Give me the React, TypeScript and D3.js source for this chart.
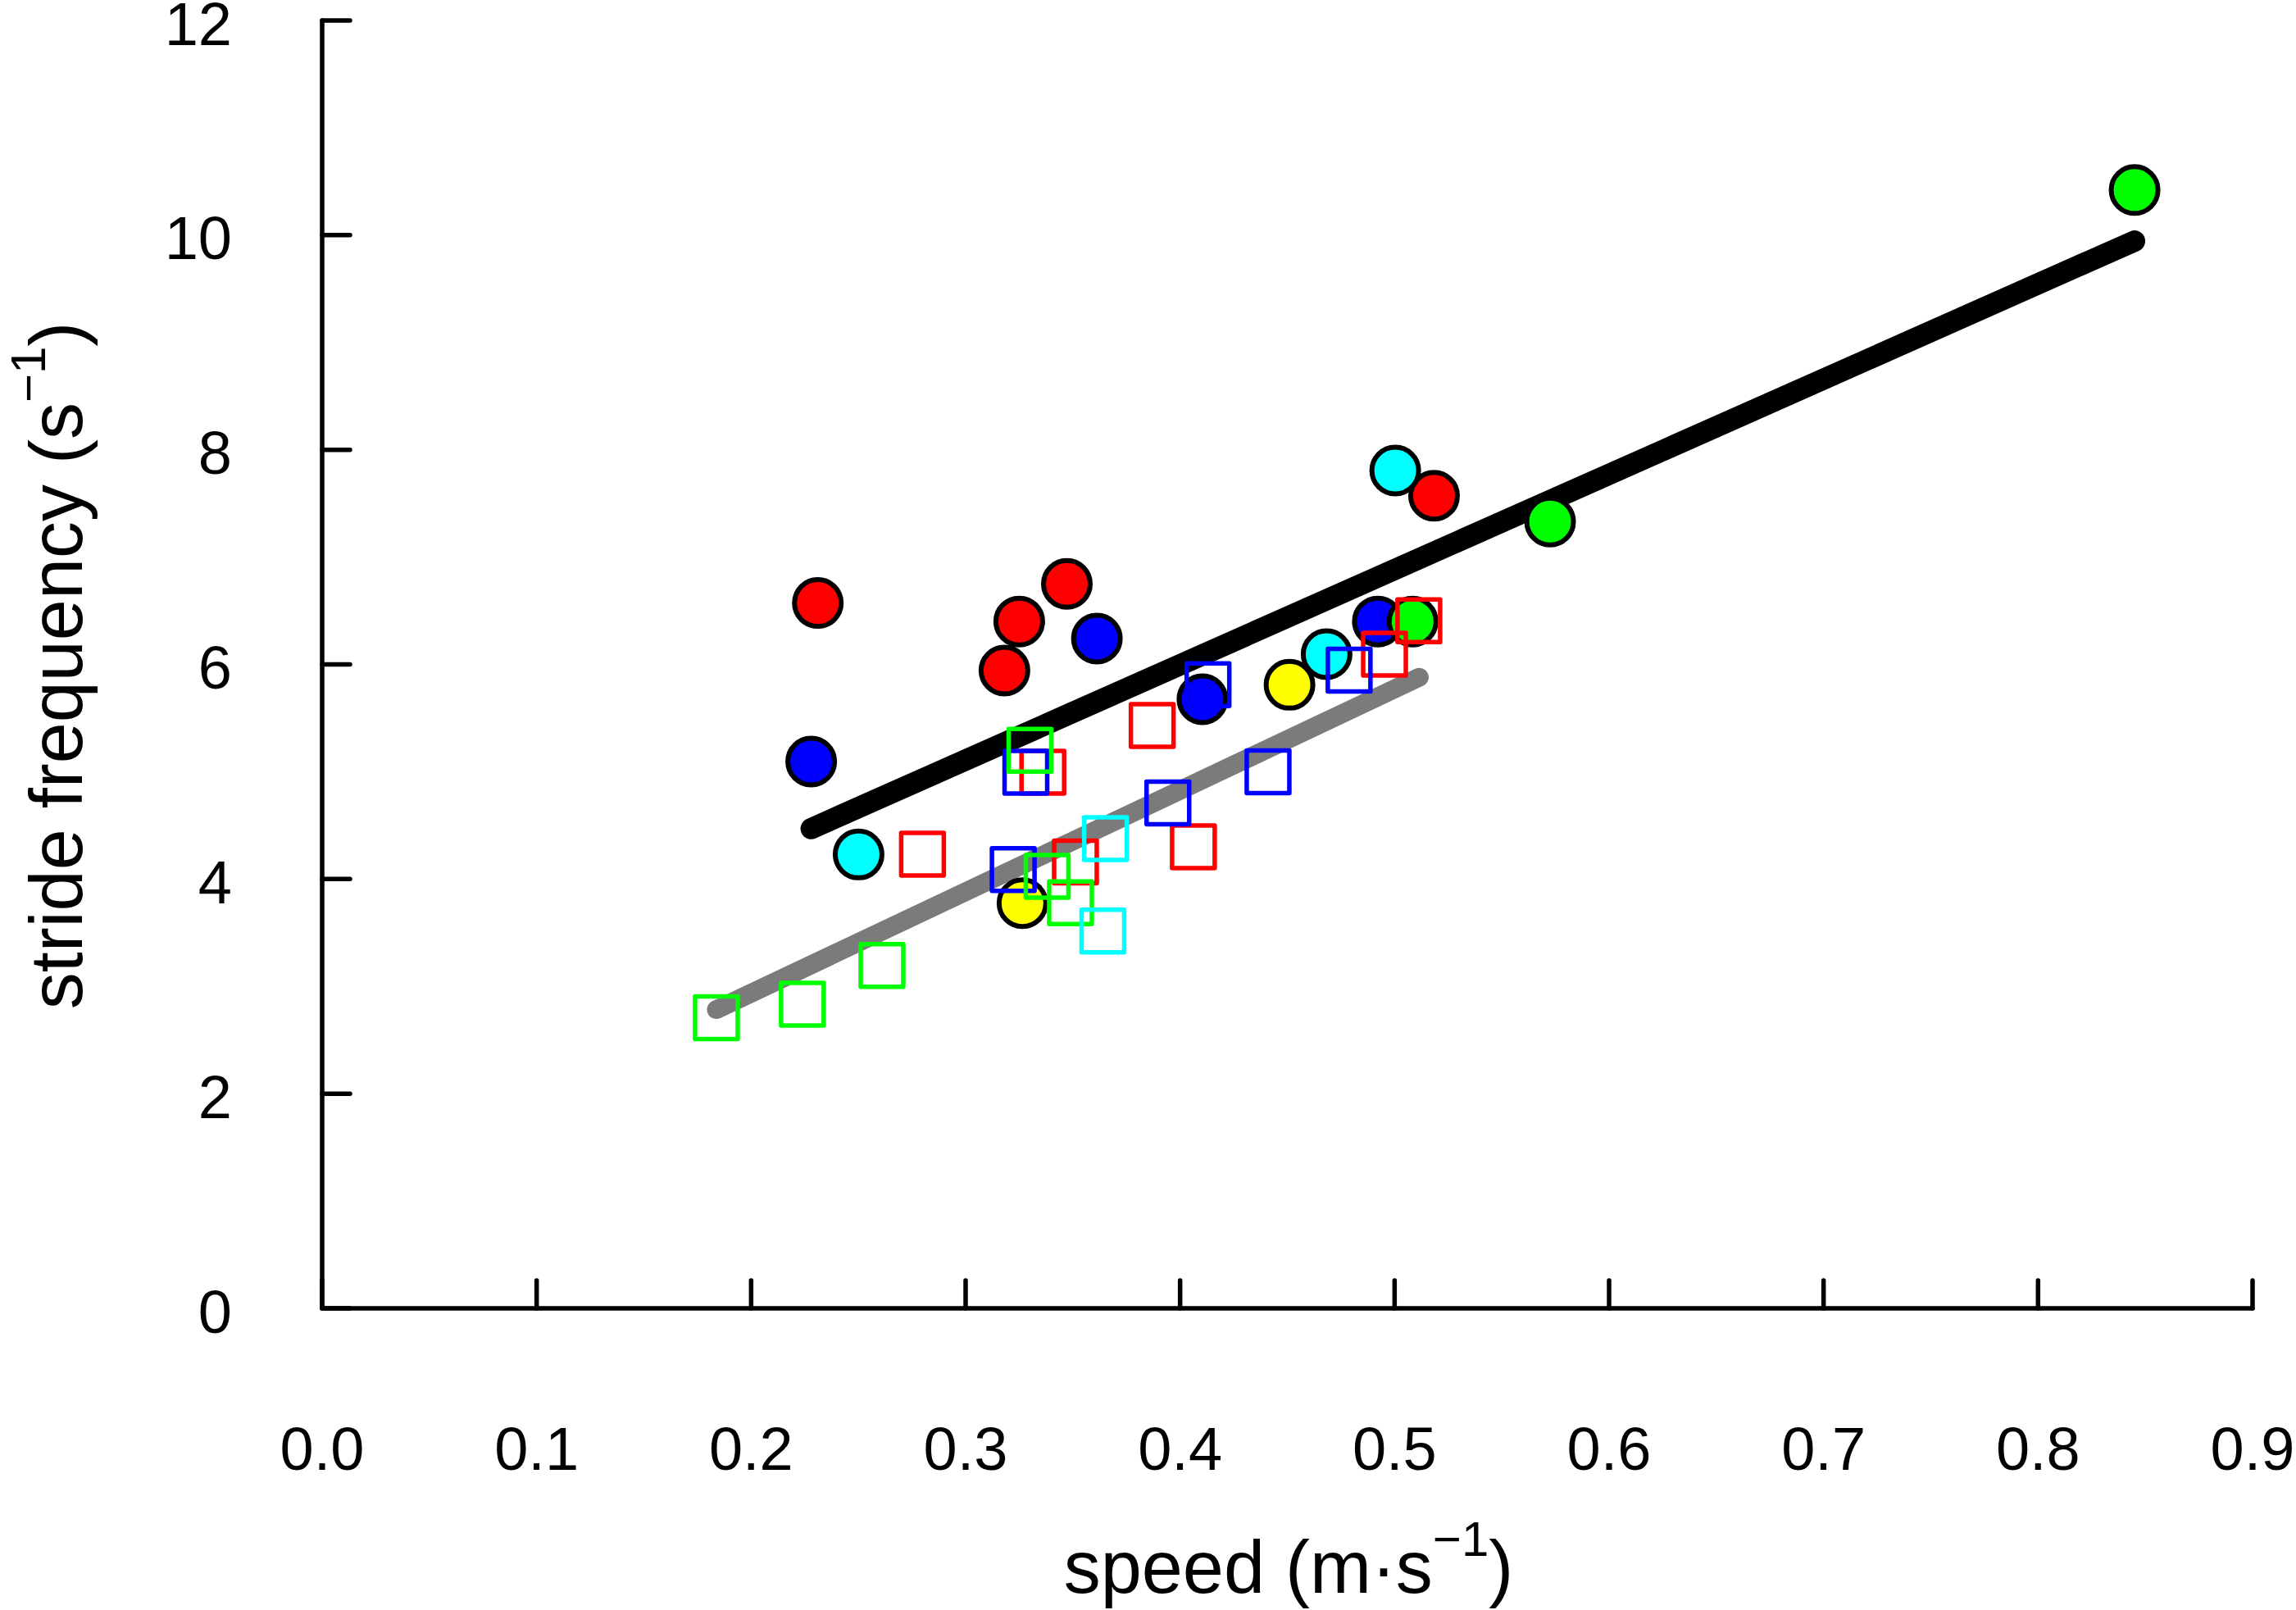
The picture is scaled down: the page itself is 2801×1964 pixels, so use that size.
import React from "react";
import * as d3 from "d3";

// ---- data ----
const xTicks = [0, 0.1, 0.2, 0.3, 0.4, 0.5, 0.6, 0.7, 0.8, 0.9];
const xTickLabels = ["0.0", "0.1", "0.2", "0.3", "0.4", "0.5", "0.6", "0.7", "0.8", "0.9"];
const yTicks = [0, 2, 4, 6, 8, 10, 12];
const yTickLabels = ["0", "2", "4", "6", "8", "10", "12"];

// filled circles: [speed, stride frequency]
const circlesRed: [number, number][] = [[0.2311, 6.572], [0.325, 6.40], [0.3472, 6.75], [0.3181, 5.943], [0.5184, 7.571]];
const circlesBlue: [number, number][] = [[0.228, 5.095], [0.3612, 6.24], [0.4104, 5.676], [0.4922, 6.40]];
const circlesYellow: [number, number][] = [[0.3265, 3.775], [0.451, 5.81]];
const circlesCyan: [number, number][] = [[0.2501, 4.229], [0.5003, 7.807], [0.4683, 6.096]];
const circlesGreen: [number, number][] = [[0.845, 10.42], [0.5725, 7.331], [0.5084, 6.40]];

// open squares
const squaresRed: [number, number][] = [[0.2799, 4.231], [0.336, 4.995], [0.3512, 4.16], [0.387, 5.43], [0.4062, 4.30], [0.4953, 6.096], [0.5113, 6.407]];
const squaresBlue: [number, number][] = [[0.3281, 4.995], [0.413, 5.81], [0.441, 5.0], [0.3943, 4.71], [0.3222, 4.089], [0.4788, 5.946]];
const squaresGreen: [number, number][] = [[0.1838, 2.708], [0.2239, 2.833], [0.261, 3.195], [0.330, 5.20], [0.338, 4.025], [0.3489, 3.78]];
const squaresCyan: [number, number][] = [[0.3652, 4.377], [0.364, 3.515]];

// fitted lines (end points)
const fitCirclesX = [0.228, 0.845];
const fitCirclesY = [4.47, 9.945];
const fitSquaresX = [0.1838, 0.5115];
const fitSquaresY = [2.784, 5.88];

const W = 2801;
const H = 1964;
const FONT = "'Liberation Sans', Arial, Helvetica, sans-serif";

export default function App() {
  const x = d3.scaleLinear().domain([0, 0.9]).range([393, 2748]);
  const y = d3.scaleLinear().domain([0, 12]).range([1596, 25]);
  const line = d3.line<[number, number]>().x((d) => x(d[0])).y((d) => y(d[1]));

  const blackPts = fitCirclesX.map((v, i) => [v, fitCirclesY[i]] as [number, number]);
  const grayPts = fitSquaresX.map((v, i) => [v, fitSquaresY[i]] as [number, number]);

  const circleSeries: [[number, number][], string][] = [
    [circlesRed, "#ff0000"],
    [circlesBlue, "#0000ff"],
    [circlesYellow, "#ffff00"],
    [circlesCyan, "#00ffff"],
    [circlesGreen, "#00ff00"],
  ];
  const squareSeries: [[number, number][], string][] = [
    [squaresRed, "#ff0000"],
    [squaresBlue, "#0000ff"],
    [squaresGreen, "#00ff00"],
    [squaresCyan, "#00ffff"],
  ];
  const R = 28.5;
  const S = 52;
  const tickLen = 34;

  return (
    <svg
      width={W}
      height={H}
      viewBox={`0 0 ${W} ${H}`}
      style={{ position: "absolute", left: 0, top: 0, background: "#fff" }}
      fontFamily={FONT}
    >
      <rect x={0} y={0} width={W} height={H} fill="#fff" />
      {/* axes */}
      <g stroke="#000" strokeWidth={5.5} strokeLinecap="round" fill="none">
        <path d={`M${x(0)},${y(12)}V${y(0)}H${x(0.9)}`} strokeLinejoin="round" />
        {yTicks.map((t) => (
          <line key={"yt" + t} x1={x(0)} x2={x(0) + tickLen} y1={y(t)} y2={y(t)} />
        ))}
        {xTicks.map((t) => (
          <line key={"xt" + t} x1={x(t)} x2={x(t)} y1={y(0)} y2={y(0) - tickLen} />
        ))}
      </g>
      {/* tick labels */}
      <g fontSize={74} fill="#000">
        {yTicks.map((t, i) => (
          <text key={"yl" + t} x={283} y={y(t)} dy="0.4em" textAnchor="end">
            {yTickLabels[i]}
          </text>
        ))}
        {xTicks.map((t, i) => (
          <text key={"xl" + t} x={x(t)} y={1793} textAnchor="middle">
            {xTickLabels[i]}
          </text>
        ))}
      </g>
      {/* axis titles */}
      <text x={1572} y={1943} textAnchor="middle" fontSize={90} fill="#000">
        speed (m·s
        <tspan dy={-45} fontSize={60}>−1</tspan>
        <tspan dy={45} fontSize={90}>)</tspan>
      </text>
      <text transform="translate(100,812) rotate(-90)" textAnchor="middle" fontSize={90} fill="#000">
        stride frequency (s
        <tspan dy={-45} fontSize={60}>−1</tspan>
        <tspan dy={45} fontSize={90}>)</tspan>
      </text>
      {/* fitted lines */}
      <path d={line(blackPts) || ""} stroke="#000" strokeWidth={26} strokeLinecap="round" fill="none" />
      <path d={line(grayPts) || ""} stroke="#7b7b7b" strokeWidth={23} strokeLinecap="round" fill="none" />
      {/* circles */}
      {circleSeries.map(([pts, col], si) => (
        <g key={"c" + si}>
          {pts.map((p, i) => (
            <circle key={i} cx={x(p[0])} cy={y(p[1])} r={R} fill={col} stroke="#000" strokeWidth={6} />
          ))}
        </g>
      ))}
      {/* squares */}
      {squareSeries.map(([pts, col], si) => (
        <g key={"s" + si}>
          {pts.map((p, i) => (
            <rect
              key={i}
              x={x(p[0]) - S / 2}
              y={y(p[1]) - S / 2}
              width={S}
              height={S}
              fill="none"
              stroke={col}
              strokeWidth={5.5}
              strokeLinejoin="round"
            />
          ))}
        </g>
      ))}
    </svg>
  );
}
